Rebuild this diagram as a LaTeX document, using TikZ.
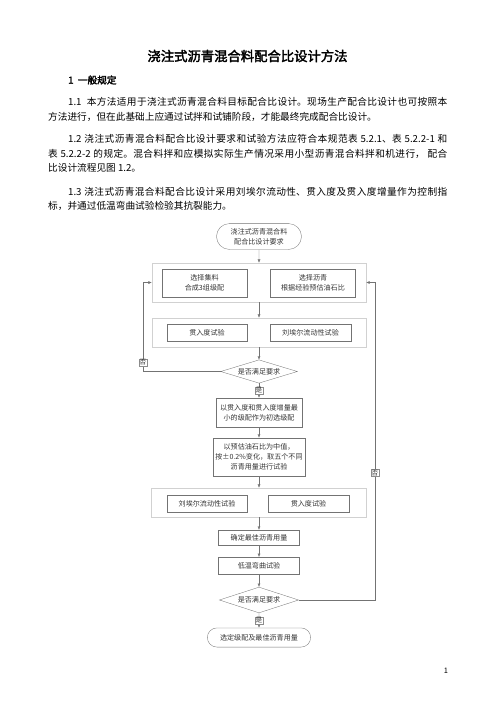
\documentclass[tikz,border=0pt]{standalone}
\usepackage{fontspec}
\setmainfont{Noto Sans CJK SC}[AutoFakeBold=2.5]
\usepackage{tikz}
\usetikzlibrary{shapes.geometric,shapes.misc,arrows.meta}
\XeTeXlinebreaklocale "zh"
\XeTeXlinebreakskip=0pt plus 1pt

\tikzset{
  body/.style={inner sep=0pt, anchor=west, font=\fontsize{11.6}{14}\selectfont},
  fullline/.style={body, text width=#1, align=justify,
    execute at begin node={\parfillskip=0pt\relax}},
  grp/.style={draw=black!18, minimum width=257pt},
  box/.style={draw=black!55, text=black!80, font=\fontsize{8.5}{12}\selectfont,
    align=center, inner sep=1pt},
  cond/.style={box, diamond, aspect=3.3, inner sep=0pt},
  term/.style={box, rounded rectangle},
  lbl/.style={draw=black!45, fill=white, text=black!80,
    font=\fontsize{8}{9}\selectfont, inner sep=0.6pt},
  flow/.style={->, draw=black!55, thin}
}

\begin{document}
\begin{tikzpicture}[x=1.2pt, y=-1.2pt, >={Latex[length=4pt,width=3.5pt]}]
                \useasboundingbox (0,0) rectangle (496,702);

                %% text
                \node[font=\fontsize{16}{19}\selectfont\bfseries] (title) at (247.5,56) {浇注式沥青混合料配合比设计方法};
                \node[body, font=\fontsize{11.6}{14}\selectfont\bfseries] (sec1) at (68,80) {1\ \ 一般规定};

                \node[fullline=455pt] (p11a) at (68,102) {1.1\ \ 本方法适用于浇注式沥青混合料目标配合比设计。现场生产配合比设计也可按照本};
                \node[body] (p11b) at (48,117) {方法进行，但在此基础上应通过试拌和试铺阶段，才能最终完成配合比设计。};

                \node[fullline=455pt] (p12a) at (68,139) {1.2 浇注式沥青混合料配合比设计要求和试验方法应符合本规范表\ 5.2.1、表\ 5.2.2-1\ 和};
                \node[fullline=479pt] (p12b) at (48,154) {表\ 5.2.2-2\ 的规定。混合料拌和应模拟实际生产情况采用小型沥青混合料拌和机进行，\ 配合};
                \node[body] (p12c) at (48,168) {比设计流程见图\ 1.2。};

                \node[fullline=455pt] (p13a) at (68,192) {1.3 浇注式沥青混合料配合比设计采用刘埃尔流动性、贯入度及贯入度增量作为控制指};
                \node[body] (p13b) at (48,206) {标，并通过低温弯曲试验检验其抗裂能力。};

                \node[font=\fontsize{9}{10}\selectfont] (page) at (446,671) {1};

                %% flow chart
                \node[term, minimum width=104pt, minimum height=31pt] (start) at (259,236.5) {浇注式沥青混合料\\配合比设计要求};

                %select
                \node[grp, minimum height=47pt] (g1) at (259,282.5) {};
                \node[box, minimum width=102pt, minimum height=34pt] (agg) at (204.5,283) {选择集料\\合成3组级配};
                \node[box, minimum width=102pt, minimum height=34pt] (asp) at (313,283) {选择沥青\\根据经验预估油石比};

                %tests 1
                \node[grp, minimum height=35pt] (g2) at (259,332.5) {};
                \node[box, minimum width=96pt, minimum height=20pt] (pen1) at (207,332.5) {贯入度试验};
                \node[box, minimum width=97pt, minimum height=20pt] (flu1) at (310.5,332.5) {刘埃尔流动性试验};

                \node[cond, minimum width=92pt, minimum height=28pt] (chk1) at (259,371.5) {是否满足要求};

                \node[box, minimum width=103pt, minimum height=35pt] (init) at (259,412.5) {以贯入度和贯入度增量最\\小的级配作为初选级配};
                \node[box, minimum width=110pt, minimum height=46pt] (five) at (259,457) {以预估油石比为中值，\\按±0.2\%变化，取五个不同\\沥青用量进行试验};

                %tests 2
                \node[grp, minimum width=258pt, minimum height=35pt] (g3) at (259,502.5) {};
                \node[box, minimum width=96pt, minimum height=20pt] (flu2) at (207,503.5) {刘埃尔流动性试验};
                \node[box, minimum width=97pt, minimum height=20pt] (pen2) at (308.5,503.5) {贯入度试验};

                \node[box, minimum width=97pt, minimum height=18pt] (best) at (259,537.5) {确定最佳沥青用量};
                \node[box, minimum width=97pt, minimum height=20pt] (bend) at (259,565.5) {低温弯曲试验};

                \node[cond, minimum width=95pt, minimum height=31pt] (chk2) at (259,600) {是否满足要求};
                \node[term, minimum width=126pt, minimum height=23pt] (done) at (259,637.5) {选定级配及最佳沥青用量};

                %arrows
                \draw[flow] (start) -- (g1);
                \draw[flow] (g1) -- (g2);
                \draw[flow] (g2) -- (chk1);
                \draw[flow] (chk1) -- node[lbl] {是} (init);
                \draw[flow] (init) -- (five);
                \draw[flow] (five) -- (g3);
                \draw[flow] (g3) -- (best);
                \draw[flow] (best) -- (bend);
                \draw[flow] (bend) -- (chk2);
                \draw[flow] (chk2) -- node[lbl] {是} (done);

                %loops
                \coordinate (lc) at (143,282.5);
                \coordinate (rc) at (375,282.5);
                \draw[flow] (chk1.west) -| node[lbl, pos=0.55] {否} (lc) -- (g1.west);
                \draw[flow] (chk2.east) -| node[lbl, pos=0.7] {否} (rc) -- (g1.east);

            \end{tikzpicture}
\end{document}
